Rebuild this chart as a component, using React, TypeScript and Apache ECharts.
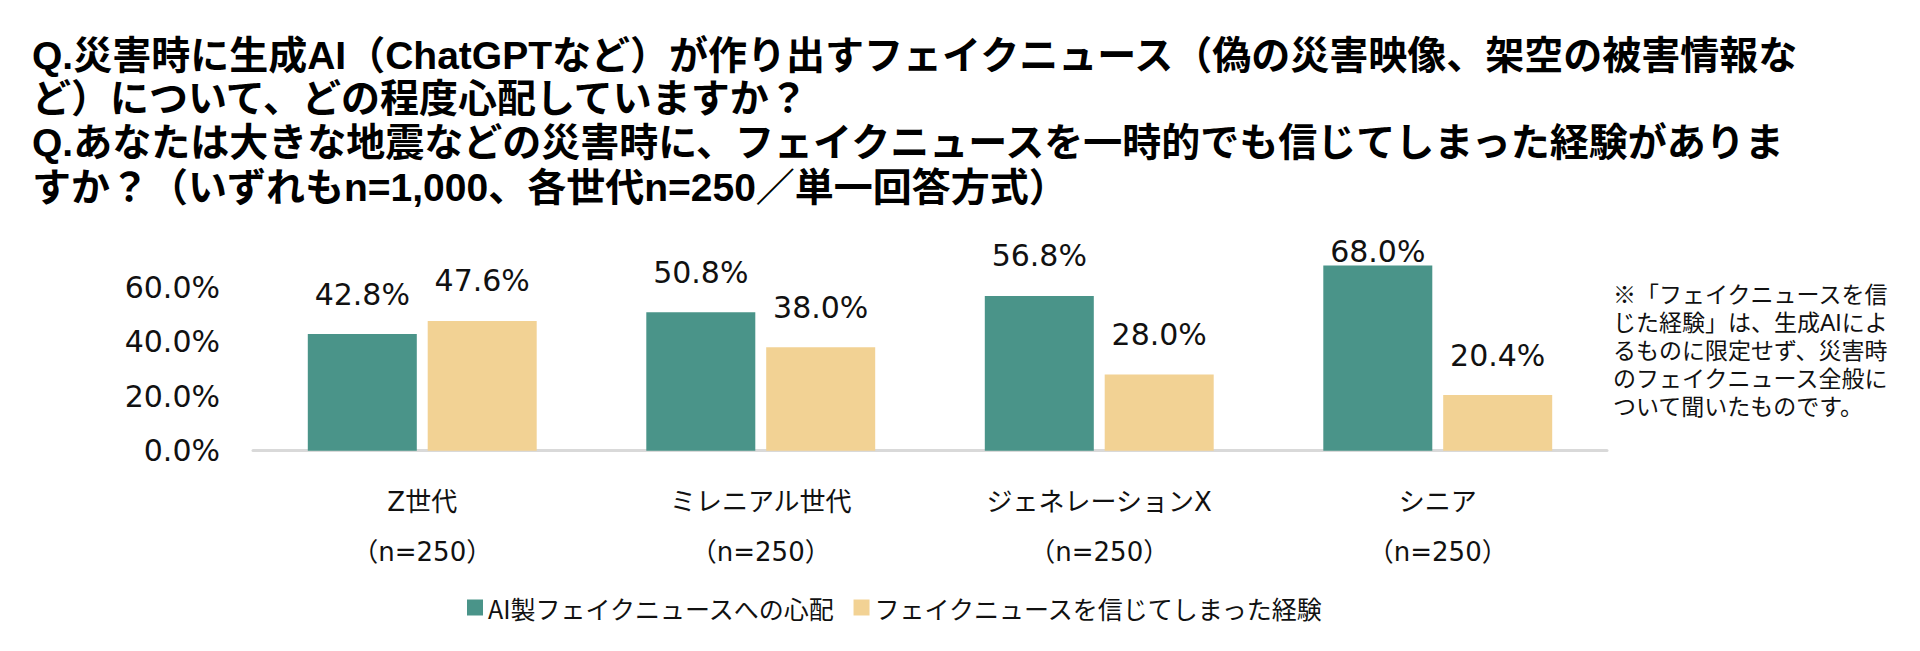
import React, { useEffect, useRef } from "react";
import * as echarts from "echarts";

const titleLines = [
  "Q.災害時に生成AI（ChatGPTなど）が作り出すフェイクニュース（偽の災害映像、架空の被害情報な",
  "ど）について、どの程度心配していますか？",
  "Q.あなたは大きな地震などの災害時に、フェイクニュースを一時的でも信じてしまった経験がありま",
  "すか？（いずれもn=1,000、各世代n=250／単一回答方式）",
];
const categories = ["Z世代", "ミレニアル世代", "ジェネレーションX", "シニア"];
const sampleLabels = ["（n=250）", "（n=250）", "（n=250）", "（n=250）"];
const seriesNames = ["AI製フェイクニュースへの心配", "フェイクニュースを信じてしまった経験"];
const worryValues = [42.8, 50.8, 56.8, 68.0];
const believedValues = [47.6, 38.0, 28.0, 20.4];
const yTicks = [0, 20, 40, 60];
const noteLines = [
  "※「フェイクニュースを信",
  "じた経験」は、生成AIによ",
  "るものに限定せず、災害時",
  "のフェイクニュース全般に",
  "ついて聞いたものです。",
];

const NUM_FONT = "'DejaVu Sans', 'Noto Sans CJK JP', sans-serif";
const JP_FONT = "'Noto Sans CJK JP', 'DejaVu Sans', sans-serif";
const TIGHT_FONT = "'Liberation Sans', 'Noto Sans CJK JP', sans-serif";
const COLORS = ["#4A9489", "#F2D294"];

export default function App() {
  const ref = useRef<HTMLDivElement>(null);
  useEffect(() => {
    if (!ref.current) return;
    const chart = echarts.init(ref.current, undefined, { renderer: "svg" });
    const mkData = (vals: number[]) =>
      vals.map((v) => (v > 64 ? { value: v, label: { distance: -1 } } : v));
    const labelStyle = {
      show: true,
      position: "top",
      distance: 25,
      fontFamily: NUM_FONT,
      fontSize: 30,
      lineHeight: 30,
      color: "#111",
      formatter: (p: any) => Number(p.value).toFixed(1) + "%",
    };
    const titleCenters = [55, 98, 142, 187];
    const noteTop = 295;
    const noteStep = 28;
    chart.setOption({
      animation: false,
      color: COLORS,
      grid: { left: 253, right: 313, top: 232.7, bottom: 200.3, containLabel: false },
      legend: {
        left: 467,
        top: 595,
        itemWidth: 16,
        itemHeight: 16,
        itemGap: 18,
        icon: "rect",
        padding: 0,
        data: seriesNames,
        textStyle: { fontFamily: JP_FONT, fontSize: 25, color: "#111" },
      },
      xAxis: {
        type: "category",
        data: categories.map((c, i) => c + "\n" + sampleLabels[i]),
        axisLine: { show: true, lineStyle: { color: "#D9D9D9", width: 3 } },
        axisTick: { show: false },
        axisLabel: {
          interval: 0,
          margin: 26,
          fontFamily: NUM_FONT,
          fontSize: 26,
          lineHeight: 50,
          color: "#111",
        },
      },
      yAxis: {
        type: "value",
        min: 0,
        max: 80,
        interval: 20,
        axisLine: { show: false },
        axisTick: { show: false },
        splitLine: { show: false },
        axisLabel: {
          margin: 33,
          fontFamily: NUM_FONT,
          fontSize: 30,
          color: "#111",
          formatter: (v: number) => (yTicks.includes(v) ? v.toFixed(1) + "%" : ""),
        },
      },
      series: [
        {
          name: seriesNames[0],
          type: "bar",
          barWidth: 109,
          barGap: "10%",
          data: mkData(worryValues),
          label: labelStyle,
        },
        {
          name: seriesNames[1],
          type: "bar",
          barWidth: 109,
          barGap: "10%",
          data: mkData(believedValues),
          label: labelStyle,
        },
      ],
      graphic: [
        ...titleLines.map((t, i) => ({
          type: "text",
          x: 32,
          y: titleCenters[i],
          style: {
            text: t,
            fontFamily: TIGHT_FONT,
            fontWeight: "bold",
            fontSize: 39,
            verticalAlign: "middle",
            align: "left",
            fill: "#000",
          },
        })),
        ...noteLines.map((t, i) => ({
          type: "text",
          x: 1613,
          y: noteTop + i * noteStep,
          style: {
            text: t,
            fontFamily: TIGHT_FONT,
            fontSize: 23,
            verticalAlign: "middle",
            align: "left",
            fill: "#111",
          },
        })),
      ],
    });
    return () => chart.dispose();
  }, []);
  return (
    <div
      ref={ref}
      style={{ position: "fixed", left: 0, top: 0, width: 1920, height: 651, background: "#fff" }}
    />
  );
}
